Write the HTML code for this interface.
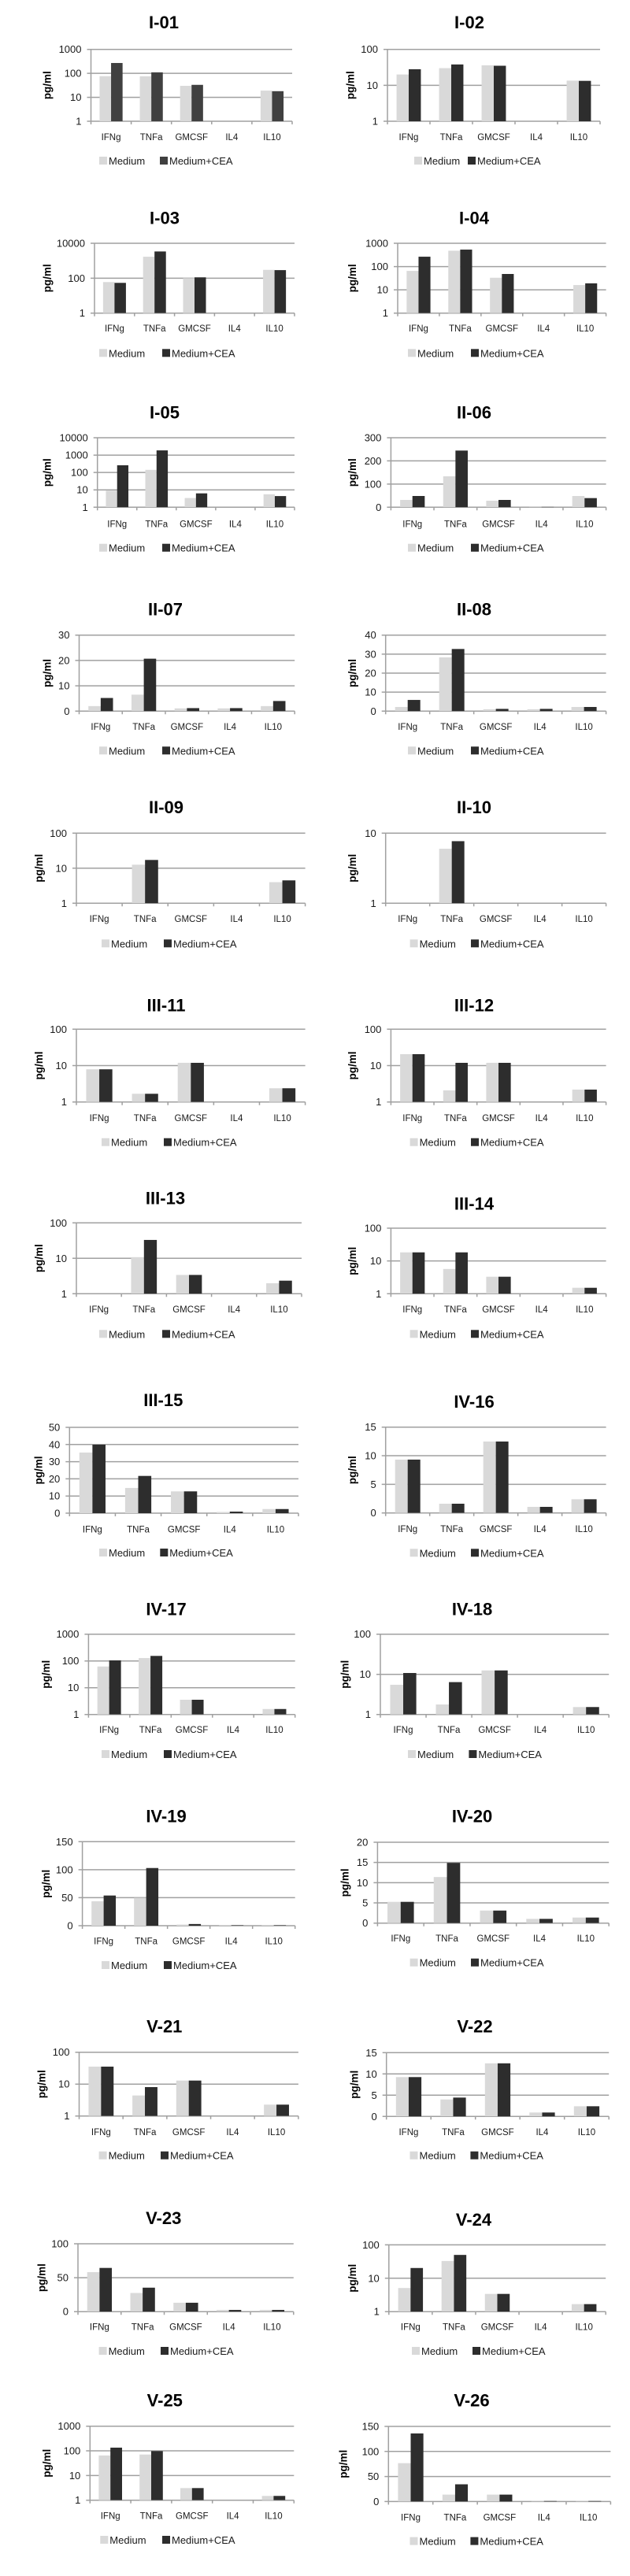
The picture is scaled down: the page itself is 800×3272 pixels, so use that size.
<!DOCTYPE html>
<html><head><meta charset="utf-8"><style>
html,body{margin:0;padding:0;background:#fff}
svg{display:block}
text{font-family:"Liberation Sans",Arial,sans-serif;fill:#1a1a1a}
.t{font-weight:bold;font-size:22px;text-anchor:middle;fill:#000}
.k{font-size:13px;text-anchor:end}
.c{font-size:11.5px;text-anchor:middle}
.y{font-weight:bold;font-size:13.5px;text-anchor:middle;fill:#000}
.l{font-size:13px}
.g{stroke:#a0a0a0;stroke-width:1.5;fill:none;vector-effect:non-scaling-stroke}
.m{fill:#d9d9d9}
.d{fill:#2d2d2d}
.d1{fill:#404040}
</style></head><body>
<svg width="800" height="3272" viewBox="0 0 800 3272" xmlns="http://www.w3.org/2000/svg">
<rect width="800" height="3272" fill="#fff"/>

<!-- 1 I-01 -->
<text class="t" x="208" y="36">I-01</text>
<path class="g" d="M110.5 62.7H371M110.5 93.1H371M110.5 123.6H371M110.5 154H371M115.5 62.7V154"/>
<svg x="115.5" y="154" width="255.5" height="4" viewBox="0 0 5 4" preserveAspectRatio="none" overflow="visible"><path class="g" d="M0 0V4M1 0V4M2 0V4M3 0V4M4 0V4M5 0V4"/></svg>
<svg x="115.5" y="62.7" width="255.5" height="91.3" viewBox="0 0 35 300" preserveAspectRatio="none"><g transform="matrix(1 0 0 -1 0 300)"><rect class="m" x="1.5" width="2" height="188.1"/><rect class="d1" x="3.5" width="2" height="243.1"/><rect class="m" x="8.5" width="2" height="187.5"/><rect class="d1" x="10.5" width="2" height="204.1"/><rect class="m" x="15.5" width="2" height="147.7"/><rect class="d1" x="17.5" width="2" height="151.9"/><rect class="m" x="29.5" width="2" height="127.9"/><rect class="d1" x="31.5" width="2" height="125.5"/></g></svg>
<text class="k" x="103.5" y="67.2">1000</text><text class="k" x="103.5" y="97.6">100</text><text class="k" x="103.5" y="128.1">10</text><text class="k" x="103.5" y="158.5">1</text>
<text class="y" transform="translate(64.5 108.3) rotate(-90)">pg/ml</text>
<text class="c" x="141.05" y="177.8">IFNg</text><text class="c" x="192.15" y="177.8">TNFa</text><text class="c" x="243.25" y="177.8">GMCSF</text><text class="c" x="294.35" y="177.8">IL4</text><text class="c" x="345.45" y="177.8">IL10</text>
<rect class="m" x="126" y="199" width="10" height="10"/><text class="l" x="138" y="209">Medium</text><rect class="d1" x="203" y="199" width="10" height="10"/><text class="l" x="215" y="209">Medium+CEA</text>

<!-- 2 I-02 -->
<text class="t" x="596" y="36">I-02</text>
<path class="g" d="M487 62.7H762M487 108.35H762M487 154H762M492 62.7V154"/>
<svg x="492" y="154" width="270" height="4" viewBox="0 0 5 4" preserveAspectRatio="none" overflow="visible"><path class="g" d="M0 0V4M1 0V4M2 0V4M3 0V4M4 0V4M5 0V4"/></svg>
<svg x="492" y="62.7" width="270" height="91.3" viewBox="0 0 35 200" preserveAspectRatio="none"><g transform="matrix(1 0 0 -1 0 200)"><rect class="m" x="1.5" width="2" height="130.1"/><rect class="d" x="3.5" width="2" height="144.7"/><rect class="m" x="8.5" width="2" height="147.7"/><rect class="d" x="10.5" width="2" height="158"/><rect class="m" x="15.5" width="2" height="155.6"/><rect class="d" x="17.5" width="2" height="154.4"/><rect class="m" x="29.5" width="2" height="113"/><rect class="d" x="31.5" width="2" height="112.4"/></g></svg>
<text class="k" x="480" y="67.2">100</text><text class="k" x="480" y="112.9">10</text><text class="k" x="480" y="158.5">1</text>
<text class="y" transform="translate(449.5 108.3) rotate(-90)">pg/ml</text>
<text class="c" x="519" y="177.8">IFNg</text><text class="c" x="573" y="177.8">TNFa</text><text class="c" x="627" y="177.8">GMCSF</text><text class="c" x="681" y="177.8">IL4</text><text class="c" x="735" y="177.8">IL10</text>
<rect class="m" x="526" y="199" width="10" height="10"/><text class="l" x="538" y="209">Medium</text><rect class="d" x="594" y="199" width="10" height="10"/><text class="l" x="606" y="209">Medium+CEA</text>

<!-- 3 I-03 -->
<text class="t" x="209" y="284.7">I-03</text>
<path class="g" d="M115 309H374M115 353.35H374M115 397.7H374M120 309V397.7"/>
<svg x="120" y="397.7" width="254" height="4" viewBox="0 0 5 4" preserveAspectRatio="none" overflow="visible"><path class="g" d="M0 0V4M1 0V4M2 0V4M3 0V4M4 0V4M5 0V4"/></svg>
<svg x="120" y="309" width="254" height="88.7" viewBox="0 0 35 400" preserveAspectRatio="none"><g transform="matrix(1 0 0 -1 0 400)"><rect class="m" x="1.5" width="2" height="177.8"/><rect class="d" x="3.5" width="2" height="173.2"/><rect class="m" x="8.5" width="2" height="323"/><rect class="d" x="10.5" width="2" height="353.1"/><rect class="m" x="15.5" width="2" height="200"/><rect class="d" x="17.5" width="2" height="204.9"/><rect class="m" x="29.5" width="2" height="247.7"/><rect class="d" x="31.5" width="2" height="246.2"/></g></svg>
<text class="k" x="108" y="313.5">10000</text><text class="k" x="108" y="357.9">100</text><text class="k" x="108" y="402.2">1</text>
<text class="y" transform="translate(64.5 353.4) rotate(-90)">pg/ml</text>
<text class="c" x="145.4" y="421.2">IFNg</text><text class="c" x="196.2" y="421.2">TNFa</text><text class="c" x="247" y="421.2">GMCSF</text><text class="c" x="297.8" y="421.2">IL4</text><text class="c" x="348.6" y="421.2">IL10</text>
<rect class="m" x="126" y="443.3" width="10" height="10"/><text class="l" x="138" y="453.3">Medium</text><rect class="d" x="206" y="443.3" width="10" height="10"/><text class="l" x="218" y="453.3">Medium+CEA</text>

<!-- 4 I-04 -->
<text class="t" x="602" y="284.7">I-04</text>
<path class="g" d="M500 309H769.6M500 338.57H769.6M500 368.13H769.6M500 397.7H769.6M505 309V397.7"/>
<svg x="505" y="397.7" width="264.6" height="4" viewBox="0 0 5 4" preserveAspectRatio="none" overflow="visible"><path class="g" d="M0 0V4M1 0V4M2 0V4M3 0V4M4 0V4M5 0V4"/></svg>
<svg x="505" y="309" width="264.6" height="88.7" viewBox="0 0 35 300" preserveAspectRatio="none"><g transform="matrix(1 0 0 -1 0 300)"><rect class="m" x="1.5" width="2" height="181.3"/><rect class="d" x="3.5" width="2" height="242.3"/><rect class="m" x="8.5" width="2" height="268.1"/><rect class="d" x="10.5" width="2" height="272.8"/><rect class="m" x="15.5" width="2" height="151.9"/><rect class="d" x="17.5" width="2" height="168.1"/><rect class="m" x="29.5" width="2" height="120.4"/><rect class="d" x="31.5" width="2" height="127.9"/></g></svg>
<text class="k" x="493" y="313.5">1000</text><text class="k" x="493" y="343.1">100</text><text class="k" x="493" y="372.6">10</text><text class="k" x="493" y="402.2">1</text>
<text class="y" transform="translate(452 353.4) rotate(-90)">pg/ml</text>
<text class="c" x="531.46" y="421.2">IFNg</text><text class="c" x="584.38" y="421.2">TNFa</text><text class="c" x="637.3" y="421.2">GMCSF</text><text class="c" x="690.22" y="421.2">IL4</text><text class="c" x="743.14" y="421.2">IL10</text>
<rect class="m" x="518" y="443.3" width="10" height="10"/><text class="l" x="530" y="453.3">Medium</text><rect class="d" x="598" y="443.3" width="10" height="10"/><text class="l" x="610" y="453.3">Medium+CEA</text>

<!-- 5 I-05 -->
<text class="t" x="209" y="531.3">I-05</text>
<path class="g" d="M118.7 556H374M118.7 578.1H374M118.7 600.15H374M118.7 622.2H374M118.7 644.3H374M123.7 556V644.3"/>
<svg x="123.7" y="644.3" width="250.3" height="4" viewBox="0 0 5 4" preserveAspectRatio="none" overflow="visible"><path class="g" d="M0 0V4M1 0V4M2 0V4M3 0V4M4 0V4M5 0V4"/></svg>
<svg x="123.7" y="556" width="250.3" height="88.3" viewBox="0 0 35 400" preserveAspectRatio="none"><g transform="matrix(1 0 0 -1 0 400)"><rect class="m" x="1.5" width="2" height="95.4"/><rect class="d" x="3.5" width="2" height="241.5"/><rect class="m" x="8.5" width="2" height="215.2"/><rect class="d" x="10.5" width="2" height="327.2"/><rect class="m" x="15.5" width="2" height="53.1"/><rect class="d" x="17.5" width="2" height="79.9"/><rect class="m" x="29.5" width="2" height="74.8"/><rect class="d" x="31.5" width="2" height="64.3"/></g></svg>
<text class="k" x="111.7" y="560.5">10000</text><text class="k" x="111.7" y="582.6">1000</text><text class="k" x="111.7" y="604.7">100</text><text class="k" x="111.7" y="626.7">10</text><text class="k" x="111.7" y="648.8">1</text>
<text class="y" transform="translate(64.5 600.2) rotate(-90)">pg/ml</text>
<text class="c" x="148.73" y="669.5">IFNg</text><text class="c" x="198.79" y="669.5">TNFa</text><text class="c" x="248.85" y="669.5">GMCSF</text><text class="c" x="298.91" y="669.5">IL4</text><text class="c" x="348.97" y="669.5">IL10</text>
<rect class="m" x="126" y="690.7" width="10" height="10"/><text class="l" x="138" y="700.7">Medium</text><rect class="d" x="206" y="690.7" width="10" height="10"/><text class="l" x="218" y="700.7">Medium+CEA</text>

<!-- 6 II-06 -->
<text class="t" x="602" y="531.3">II-06</text>
<path class="g" d="M491.4 556H769.6M491.4 585.43H769.6M491.4 614.87H769.6M491.4 644.3H769.6M496.4 556V644.3"/>
<svg x="496.4" y="644.3" width="273.2" height="4" viewBox="0 0 5 4" preserveAspectRatio="none" overflow="visible"><path class="g" d="M0 0V4M1 0V4M2 0V4M3 0V4M4 0V4M5 0V4"/></svg>
<svg x="496.4" y="556" width="273.2" height="88.3" viewBox="0 0 35 300" preserveAspectRatio="none"><g transform="matrix(1 0 0 -1 0 300)"><rect class="m" x="1.5" width="2" height="31.6"/><rect class="d" x="3.5" width="2" height="48.6"/><rect class="m" x="8.5" width="2" height="133.5"/><rect class="d" x="10.5" width="2" height="244.6"/><rect class="m" x="15.5" width="2" height="28"/><rect class="d" x="17.5" width="2" height="31.6"/><rect class="m" x="22.5" width="2" height="1.5"/><rect class="d" x="24.5" width="2" height="1.5"/><rect class="m" x="29.5" width="2" height="48.6"/><rect class="d" x="31.5" width="2" height="39.5"/></g></svg>
<text class="k" x="484.4" y="560.5">300</text><text class="k" x="484.4" y="589.9">200</text><text class="k" x="484.4" y="619.4">100</text><text class="k" x="484.4" y="648.8">0</text>
<text class="y" transform="translate(452 600.2) rotate(-90)">pg/ml</text>
<text class="c" x="523.72" y="669.5">IFNg</text><text class="c" x="578.36" y="669.5">TNFa</text><text class="c" x="633" y="669.5">GMCSF</text><text class="c" x="687.64" y="669.5">IL4</text><text class="c" x="742.28" y="669.5">IL10</text>
<rect class="m" x="518" y="690.7" width="10" height="10"/><text class="l" x="530" y="700.7">Medium</text><rect class="d" x="598" y="690.7" width="10" height="10"/><text class="l" x="610" y="700.7">Medium+CEA</text>

<!-- 7 II-07 -->
<text class="t" x="210" y="781.3">II-07</text>
<path class="g" d="M95.5 806.7H374.2M95.5 838.9H374.2M95.5 871.1H374.2M95.5 903.3H374.2M100.5 806.7V903.3"/>
<svg x="100.5" y="903.3" width="273.7" height="4" viewBox="0 0 5 4" preserveAspectRatio="none" overflow="visible"><path class="g" d="M0 0V4M1 0V4M2 0V4M3 0V4M4 0V4M5 0V4"/></svg>
<svg x="100.5" y="806.7" width="273.7" height="96.6" viewBox="0 0 35 30" preserveAspectRatio="none"><g transform="matrix(1 0 0 -1 0 30)"><rect class="m" x="1.5" width="2" height="2"/><rect class="d" x="3.5" width="2" height="5.2"/><rect class="m" x="8.5" width="2" height="6.5"/><rect class="d" x="10.5" width="2" height="20.7"/><rect class="m" x="15.5" width="2" height="1.1"/><rect class="d" x="17.5" width="2" height="1.2"/><rect class="m" x="22.5" width="2" height="1.1"/><rect class="d" x="24.5" width="2" height="1.2"/><rect class="m" x="29.5" width="2" height="2"/><rect class="d" x="31.5" width="2" height="4"/></g></svg>
<text class="k" x="88.5" y="811.2">30</text><text class="k" x="88.5" y="843.4">20</text><text class="k" x="88.5" y="875.6">10</text><text class="k" x="88.5" y="907.8">0</text>
<text class="y" transform="translate(64.5 855) rotate(-90)">pg/ml</text>
<text class="c" x="127.87" y="927.2">IFNg</text><text class="c" x="182.61" y="927.2">TNFa</text><text class="c" x="237.35" y="927.2">GMCSF</text><text class="c" x="292.09" y="927.2">IL4</text><text class="c" x="346.83" y="927.2">IL10</text>
<rect class="m" x="126" y="948.3" width="10" height="10"/><text class="l" x="138" y="958.3">Medium</text><rect class="d" x="206" y="948.3" width="10" height="10"/><text class="l" x="218" y="958.3">Medium+CEA</text>

<!-- 8 II-08 -->
<text class="t" x="602" y="781.3">II-08</text>
<path class="g" d="M484.7 806.7H769.6M484.7 830.85H769.6M484.7 855H769.6M484.7 879.15H769.6M484.7 903.3H769.6M489.7 806.7V903.3"/>
<svg x="489.7" y="903.3" width="279.9" height="4" viewBox="0 0 5 4" preserveAspectRatio="none" overflow="visible"><path class="g" d="M0 0V4M1 0V4M2 0V4M3 0V4M4 0V4M5 0V4"/></svg>
<svg x="489.7" y="806.7" width="279.9" height="96.6" viewBox="0 0 35 40" preserveAspectRatio="none"><g transform="matrix(1 0 0 -1 0 40)"><rect class="m" x="1.5" width="2" height="2.2"/><rect class="d" x="3.5" width="2" height="5.9"/><rect class="m" x="8.5" width="2" height="28.3"/><rect class="d" x="10.5" width="2" height="32.7"/><rect class="m" x="15.5" width="2" height="1"/><rect class="d" x="17.5" width="2" height="1.2"/><rect class="m" x="22.5" width="2" height="1"/><rect class="d" x="24.5" width="2" height="1.2"/><rect class="m" x="29.5" width="2" height="2.2"/><rect class="d" x="31.5" width="2" height="2.2"/></g></svg>
<text class="k" x="477.7" y="811.2">40</text><text class="k" x="477.7" y="835.4">30</text><text class="k" x="477.7" y="859.5">20</text><text class="k" x="477.7" y="883.7">10</text><text class="k" x="477.7" y="907.8">0</text>
<text class="y" transform="translate(452 855) rotate(-90)">pg/ml</text>
<text class="c" x="517.69" y="927.2">IFNg</text><text class="c" x="573.67" y="927.2">TNFa</text><text class="c" x="629.65" y="927.2">GMCSF</text><text class="c" x="685.63" y="927.2">IL4</text><text class="c" x="741.61" y="927.2">IL10</text>
<rect class="m" x="518" y="948.3" width="10" height="10"/><text class="l" x="530" y="958.3">Medium</text><rect class="d" x="598" y="948.3" width="10" height="10"/><text class="l" x="610" y="958.3">Medium+CEA</text>

<!-- 9 II-09 -->
<text class="t" x="211" y="1033">II-09</text>
<path class="g" d="M92 1058.3H387.6M92 1102.8H387.6M92 1147.3H387.6M97 1058.3V1147.3"/>
<svg x="97" y="1147.3" width="290.6" height="4" viewBox="0 0 5 4" preserveAspectRatio="none" overflow="visible"><path class="g" d="M0 0V4M1 0V4M2 0V4M3 0V4M4 0V4M5 0V4"/></svg>
<svg x="97" y="1058.3" width="290.6" height="89" viewBox="0 0 35 200" preserveAspectRatio="none"><g transform="matrix(1 0 0 -1 0 200)"><rect class="m" x="8.5" width="2" height="110"/><rect class="d" x="10.5" width="2" height="123.6"/><rect class="m" x="29.5" width="2" height="60.2"/><rect class="d" x="31.5" width="2" height="65.3"/></g></svg>
<text class="k" x="85" y="1062.8">100</text><text class="k" x="85" y="1107.3">10</text><text class="k" x="85" y="1151.8">1</text>
<text class="y" transform="translate(54 1102.8) rotate(-90)">pg/ml</text>
<text class="c" x="126.06" y="1171.2">IFNg</text><text class="c" x="184.18" y="1171.2">TNFa</text><text class="c" x="242.3" y="1171.2">GMCSF</text><text class="c" x="300.42" y="1171.2">IL4</text><text class="c" x="358.54" y="1171.2">IL10</text>
<rect class="m" x="129" y="1193.3" width="10" height="10"/><text class="l" x="141" y="1203.3">Medium</text><rect class="d" x="208" y="1193.3" width="10" height="10"/><text class="l" x="220" y="1203.3">Medium+CEA</text>

<!-- 10 II-10 -->
<text class="t" x="602" y="1033">II-10</text>
<path class="g" d="M484.7 1058.3H769.6M484.7 1147.3H769.6M489.7 1058.3V1147.3"/>
<svg x="489.7" y="1147.3" width="279.9" height="4" viewBox="0 0 5 4" preserveAspectRatio="none" overflow="visible"><path class="g" d="M0 0V4M1 0V4M2 0V4M3 0V4M4 0V4M5 0V4"/></svg>
<svg x="489.7" y="1058.3" width="279.9" height="89" viewBox="0 0 35 100" preserveAspectRatio="none"><g transform="matrix(1 0 0 -1 0 100)"><rect class="m" x="8.5" width="2" height="77.8"/><rect class="d" x="10.5" width="2" height="88.6"/></g></svg>
<text class="k" x="477.7" y="1062.8">10</text><text class="k" x="477.7" y="1151.8">1</text>
<text class="y" transform="translate(452 1102.8) rotate(-90)">pg/ml</text>
<text class="c" x="517.69" y="1171.2">IFNg</text><text class="c" x="573.67" y="1171.2">TNFa</text><text class="c" x="629.65" y="1171.2">GMCSF</text><text class="c" x="685.63" y="1171.2">IL4</text><text class="c" x="741.61" y="1171.2">IL10</text>
<rect class="m" x="520.6" y="1193.3" width="10" height="10"/><text class="l" x="532.6" y="1203.3">Medium</text><rect class="d" x="598" y="1193.3" width="10" height="10"/><text class="l" x="610" y="1203.3">Medium+CEA</text>

<!-- 11 III-11 -->
<text class="t" x="211" y="1284.7">III-11</text>
<path class="g" d="M92 1307.3H387.6M92 1353.5H387.6M92 1399.7H387.6M97 1307.3V1399.7"/>
<svg x="97" y="1399.7" width="290.6" height="4" viewBox="0 0 5 4" preserveAspectRatio="none" overflow="visible"><path class="g" d="M0 0V4M1 0V4M2 0V4M3 0V4M4 0V4M5 0V4"/></svg>
<svg x="97" y="1307.3" width="290.6" height="92.4" viewBox="0 0 35 200" preserveAspectRatio="none"><g transform="matrix(1 0 0 -1 0 200)"><rect class="m" x="1.5" width="2" height="89.8"/><rect class="d" x="3.5" width="2" height="89.8"/><rect class="m" x="8.5" width="2" height="22.5"/><rect class="d" x="10.5" width="2" height="22.5"/><rect class="m" x="15.5" width="2" height="107.6"/><rect class="d" x="17.5" width="2" height="107.6"/><rect class="m" x="29.5" width="2" height="37.7"/><rect class="d" x="31.5" width="2" height="37.7"/></g></svg>
<text class="k" x="85" y="1311.8">100</text><text class="k" x="85" y="1358">10</text><text class="k" x="85" y="1404.2">1</text>
<text class="y" transform="translate(54 1353.5) rotate(-90)">pg/ml</text>
<text class="c" x="126.06" y="1423.8">IFNg</text><text class="c" x="184.18" y="1423.8">TNFa</text><text class="c" x="242.3" y="1423.8">GMCSF</text><text class="c" x="300.42" y="1423.8">IL4</text><text class="c" x="358.54" y="1423.8">IL10</text>
<rect class="m" x="129" y="1445.7" width="10" height="10"/><text class="l" x="141" y="1455.7">Medium</text><rect class="d" x="208" y="1445.7" width="10" height="10"/><text class="l" x="220" y="1455.7">Medium+CEA</text>

<!-- 12 III-12 -->
<text class="t" x="602" y="1284.7">III-12</text>
<path class="g" d="M491.4 1307.3H769.6M491.4 1353.5H769.6M491.4 1399.7H769.6M496.4 1307.3V1399.7"/>
<svg x="496.4" y="1399.7" width="273.2" height="4" viewBox="0 0 5 4" preserveAspectRatio="none" overflow="visible"><path class="g" d="M0 0V4M1 0V4M2 0V4M3 0V4M4 0V4M5 0V4"/></svg>
<svg x="496.4" y="1307.3" width="273.2" height="92.4" viewBox="0 0 35 200" preserveAspectRatio="none"><g transform="matrix(1 0 0 -1 0 200)"><rect class="m" x="1.5" width="2" height="131.4"/><rect class="d" x="3.5" width="2" height="131.4"/><rect class="m" x="8.5" width="2" height="31.8"/><rect class="d" x="10.5" width="2" height="107.6"/><rect class="m" x="15.5" width="2" height="107.6"/><rect class="d" x="17.5" width="2" height="107.6"/><rect class="m" x="29.5" width="2" height="34"/><rect class="d" x="31.5" width="2" height="34"/></g></svg>
<text class="k" x="484.4" y="1311.8">100</text><text class="k" x="484.4" y="1358">10</text><text class="k" x="484.4" y="1404.2">1</text>
<text class="y" transform="translate(452 1353.5) rotate(-90)">pg/ml</text>
<text class="c" x="523.72" y="1423.8">IFNg</text><text class="c" x="578.36" y="1423.8">TNFa</text><text class="c" x="633" y="1423.8">GMCSF</text><text class="c" x="687.64" y="1423.8">IL4</text><text class="c" x="742.28" y="1423.8">IL10</text>
<rect class="m" x="520.6" y="1445.7" width="10" height="10"/><text class="l" x="532.6" y="1455.7">Medium</text><rect class="d" x="598" y="1445.7" width="10" height="10"/><text class="l" x="610" y="1455.7">Medium+CEA</text>

<!-- 13 III-13 -->
<text class="t" x="210" y="1529.7">III-13</text>
<path class="g" d="M92 1553.3H383M92 1598.3H383M92 1643.3H383M97 1553.3V1643.3"/>
<svg x="97" y="1643.3" width="286" height="4" viewBox="0 0 5 4" preserveAspectRatio="none" overflow="visible"><path class="g" d="M0 0V4M1 0V4M2 0V4M3 0V4M4 0V4M5 0V4"/></svg>
<svg x="97" y="1553.3" width="286" height="90" viewBox="0 0 35 200" preserveAspectRatio="none"><g transform="matrix(1 0 0 -1 0 200)"><rect class="m" x="8.5" width="2" height="103.3"/><rect class="d" x="10.5" width="2" height="151.9"/><rect class="m" x="15.5" width="2" height="53.1"/><rect class="d" x="17.5" width="2" height="53.1"/><rect class="m" x="29.5" width="2" height="29.7"/><rect class="d" x="31.5" width="2" height="36.9"/></g></svg>
<text class="k" x="85" y="1557.8">100</text><text class="k" x="85" y="1602.8">10</text><text class="k" x="85" y="1647.8">1</text>
<text class="y" transform="translate(54 1598.3) rotate(-90)">pg/ml</text>
<text class="c" x="125.6" y="1667.2">IFNg</text><text class="c" x="182.8" y="1667.2">TNFa</text><text class="c" x="240" y="1667.2">GMCSF</text><text class="c" x="297.2" y="1667.2">IL4</text><text class="c" x="354.4" y="1667.2">IL10</text>
<rect class="m" x="126" y="1689.3" width="10" height="10"/><text class="l" x="138" y="1699.3">Medium</text><rect class="d" x="206" y="1689.3" width="10" height="10"/><text class="l" x="218" y="1699.3">Medium+CEA</text>

<!-- 14 III-14 -->
<text class="t" x="602" y="1536.3">III-14</text>
<path class="g" d="M491.4 1560H769.6M491.4 1601.65H769.6M491.4 1643.3H769.6M496.4 1560V1643.3"/>
<svg x="496.4" y="1643.3" width="273.2" height="4" viewBox="0 0 5 4" preserveAspectRatio="none" overflow="visible"><path class="g" d="M0 0V4M1 0V4M2 0V4M3 0V4M4 0V4M5 0V4"/></svg>
<svg x="496.4" y="1560" width="273.2" height="83.3" viewBox="0 0 35 200" preserveAspectRatio="none"><g transform="matrix(1 0 0 -1 0 200)"><rect class="m" x="1.5" width="2" height="126.2"/><rect class="d" x="3.5" width="2" height="126.2"/><rect class="m" x="8.5" width="2" height="75.6"/><rect class="d" x="10.5" width="2" height="126.2"/><rect class="m" x="15.5" width="2" height="51.9"/><rect class="d" x="17.5" width="2" height="51.9"/><rect class="m" x="29.5" width="2" height="18.2"/><rect class="d" x="31.5" width="2" height="18.2"/></g></svg>
<text class="k" x="484.4" y="1564.5">100</text><text class="k" x="484.4" y="1606.2">10</text><text class="k" x="484.4" y="1647.8">1</text>
<text class="y" transform="translate(452 1601.7) rotate(-90)">pg/ml</text>
<text class="c" x="523.72" y="1667.2">IFNg</text><text class="c" x="578.36" y="1667.2">TNFa</text><text class="c" x="633" y="1667.2">GMCSF</text><text class="c" x="687.64" y="1667.2">IL4</text><text class="c" x="742.28" y="1667.2">IL10</text>
<rect class="m" x="520.6" y="1689.3" width="10" height="10"/><text class="l" x="532.6" y="1699.3">Medium</text><rect class="d" x="598" y="1689.3" width="10" height="10"/><text class="l" x="610" y="1699.3">Medium+CEA</text>

<!-- 15 III-15 -->
<text class="t" x="207.3" y="1786">III-15</text>
<path class="g" d="M83.3 1813H379M83.3 1834.8H379M83.3 1856.6H379M83.3 1878.4H379M83.3 1900.2H379M83.3 1922H379M88.3 1813V1922"/>
<svg x="88.3" y="1922" width="290.7" height="4" viewBox="0 0 5 4" preserveAspectRatio="none" overflow="visible"><path class="g" d="M0 0V4M1 0V4M2 0V4M3 0V4M4 0V4M5 0V4"/></svg>
<svg x="88.3" y="1813" width="290.7" height="109" viewBox="0 0 35 50" preserveAspectRatio="none"><g transform="matrix(1 0 0 -1 0 50)"><rect class="m" x="1.5" width="2" height="35.3"/><rect class="d" x="3.5" width="2" height="39.9"/><rect class="m" x="8.5" width="2" height="14.7"/><rect class="d" x="10.5" width="2" height="21.7"/><rect class="m" x="15.5" width="2" height="12.7"/><rect class="d" x="17.5" width="2" height="12.7"/><rect class="m" x="22.5" width="2" height="0.7"/><rect class="d" x="24.5" width="2" height="0.9"/><rect class="m" x="29.5" width="2" height="2.4"/><rect class="d" x="31.5" width="2" height="2.4"/></g></svg>
<text class="k" x="76.3" y="1817.5">50</text><text class="k" x="76.3" y="1839.3">40</text><text class="k" x="76.3" y="1861.1">30</text><text class="k" x="76.3" y="1882.9">20</text><text class="k" x="76.3" y="1904.7">10</text><text class="k" x="76.3" y="1926.5">0</text>
<text class="y" transform="translate(53.5 1867.5) rotate(-90)">pg/ml</text>
<text class="c" x="117.37" y="1946.5">IFNg</text><text class="c" x="175.51" y="1946.5">TNFa</text><text class="c" x="233.65" y="1946.5">GMCSF</text><text class="c" x="291.79" y="1946.5">IL4</text><text class="c" x="349.93" y="1946.5">IL10</text>
<rect class="m" x="126" y="1967" width="10" height="10"/><text class="l" x="138" y="1977">Medium</text><rect class="d" x="203.3" y="1967" width="10" height="10"/><text class="l" x="215.3" y="1977">Medium+CEA</text>

<!-- 16 IV-16 -->
<text class="t" x="602" y="1788">IV-16</text>
<path class="g" d="M484.7 1812.7H769.6M484.7 1849.03H769.6M484.7 1885.37H769.6M484.7 1921.7H769.6M489.7 1812.7V1921.7"/>
<svg x="489.7" y="1921.7" width="279.9" height="4" viewBox="0 0 5 4" preserveAspectRatio="none" overflow="visible"><path class="g" d="M0 0V4M1 0V4M2 0V4M3 0V4M4 0V4M5 0V4"/></svg>
<svg x="489.7" y="1812.7" width="279.9" height="109" viewBox="0 0 35 15" preserveAspectRatio="none"><g transform="matrix(1 0 0 -1 0 15)"><rect class="m" x="1.5" width="2" height="9.32"/><rect class="d" x="3.5" width="2" height="9.32"/><rect class="m" x="8.5" width="2" height="1.61"/><rect class="d" x="10.5" width="2" height="1.61"/><rect class="m" x="15.5" width="2" height="12.48"/><rect class="d" x="17.5" width="2" height="12.48"/><rect class="m" x="22.5" width="2" height="1.06"/><rect class="d" x="24.5" width="2" height="1.06"/><rect class="m" x="29.5" width="2" height="2.39"/><rect class="d" x="31.5" width="2" height="2.39"/></g></svg>
<text class="k" x="477.7" y="1817.2">15</text><text class="k" x="477.7" y="1853.5">10</text><text class="k" x="477.7" y="1889.9">5</text><text class="k" x="477.7" y="1926.2">0</text>
<text class="y" transform="translate(452 1867.2) rotate(-90)">pg/ml</text>
<text class="c" x="517.69" y="1946.2">IFNg</text><text class="c" x="573.67" y="1946.2">TNFa</text><text class="c" x="629.65" y="1946.2">GMCSF</text><text class="c" x="685.63" y="1946.2">IL4</text><text class="c" x="741.61" y="1946.2">IL10</text>
<rect class="m" x="520.6" y="1967.3" width="10" height="10"/><text class="l" x="532.6" y="1977.3">Medium</text><rect class="d" x="598" y="1967.3" width="10" height="10"/><text class="l" x="610" y="1977.3">Medium+CEA</text>

<!-- 17 IV-17 -->
<text class="t" x="211" y="2051.3">IV-17</text>
<path class="g" d="M107.4 2075.7H374.7M107.4 2109.7H374.7M107.4 2143.7H374.7M107.4 2177.7H374.7M112.4 2075.7V2177.7"/>
<svg x="112.4" y="2177.7" width="262.3" height="4" viewBox="0 0 5 4" preserveAspectRatio="none" overflow="visible"><path class="g" d="M0 0V4M1 0V4M2 0V4M3 0V4M4 0V4M5 0V4"/></svg>
<svg x="112.4" y="2075.7" width="262.3" height="102" viewBox="0 0 35 300" preserveAspectRatio="none"><g transform="matrix(1 0 0 -1 0 300)"><rect class="m" x="1.5" width="2" height="179.2"/><rect class="d" x="3.5" width="2" height="202.1"/><rect class="m" x="8.5" width="2" height="210.7"/><rect class="d" x="10.5" width="2" height="218.8"/><rect class="m" x="15.5" width="2" height="55"/><rect class="d" x="17.5" width="2" height="55"/><rect class="m" x="29.5" width="2" height="20.4"/><rect class="d" x="31.5" width="2" height="20.4"/></g></svg>
<text class="k" x="100.4" y="2080.2">1000</text><text class="k" x="100.4" y="2114.2">100</text><text class="k" x="100.4" y="2148.2">10</text><text class="k" x="100.4" y="2182.2">1</text>
<text class="y" transform="translate(62.8 2126.7) rotate(-90)">pg/ml</text>
<text class="c" x="138.63" y="2201.2">IFNg</text><text class="c" x="191.09" y="2201.2">TNFa</text><text class="c" x="243.55" y="2201.2">GMCSF</text><text class="c" x="296.01" y="2201.2">IL4</text><text class="c" x="348.47" y="2201.2">IL10</text>
<rect class="m" x="129" y="2223" width="10" height="10"/><text class="l" x="141" y="2233">Medium</text><rect class="d" x="208" y="2223" width="10" height="10"/><text class="l" x="220" y="2233">Medium+CEA</text>

<!-- 18 IV-18 -->
<text class="t" x="599.5" y="2051.3">IV-18</text>
<path class="g" d="M478 2075.7H773.2M478 2126.7H773.2M478 2177.7H773.2M483 2075.7V2177.7"/>
<svg x="483" y="2177.7" width="290.2" height="4" viewBox="0 0 5 4" preserveAspectRatio="none" overflow="visible"><path class="g" d="M0 0V4M1 0V4M2 0V4M3 0V4M4 0V4M5 0V4"/></svg>
<svg x="483" y="2075.7" width="290.2" height="102" viewBox="0 0 35 200" preserveAspectRatio="none"><g transform="matrix(1 0 0 -1 0 200)"><rect class="m" x="1.5" width="2" height="74"/><rect class="d" x="3.5" width="2" height="103.3"/><rect class="m" x="8.5" width="2" height="24.8"/><rect class="d" x="10.5" width="2" height="80.6"/><rect class="m" x="15.5" width="2" height="109.7"/><rect class="d" x="17.5" width="2" height="109.7"/><rect class="m" x="29.5" width="2" height="18.5"/><rect class="d" x="31.5" width="2" height="18.5"/></g></svg>
<text class="k" x="471" y="2080.2">100</text><text class="k" x="471" y="2131.2">10</text><text class="k" x="471" y="2182.2">1</text>
<text class="y" transform="translate(442.5 2126.7) rotate(-90)">pg/ml</text>
<text class="c" x="512.02" y="2201.2">IFNg</text><text class="c" x="570.06" y="2201.2">TNFa</text><text class="c" x="628.1" y="2201.2">GMCSF</text><text class="c" x="686.14" y="2201.2">IL4</text><text class="c" x="744.18" y="2201.2">IL10</text>
<rect class="m" x="518" y="2223" width="10" height="10"/><text class="l" x="530" y="2233">Medium</text><rect class="d" x="595.4" y="2223" width="10" height="10"/><text class="l" x="607.4" y="2233">Medium+CEA</text>

<!-- 19 IV-19 -->
<text class="t" x="211" y="2314.7">IV-19</text>
<path class="g" d="M99.6 2339.3H374.7M99.6 2374.87H374.7M99.6 2410.43H374.7M99.6 2446H374.7M104.6 2339.3V2446"/>
<svg x="104.6" y="2446" width="270.1" height="4" viewBox="0 0 5 4" preserveAspectRatio="none" overflow="visible"><path class="g" d="M0 0V4M1 0V4M2 0V4M3 0V4M4 0V4M5 0V4"/></svg>
<svg x="104.6" y="2339.3" width="270.1" height="106.7" viewBox="0 0 35 150" preserveAspectRatio="none"><g transform="matrix(1 0 0 -1 0 150)"><rect class="m" x="1.5" width="2" height="43.6"/><rect class="d" x="3.5" width="2" height="53.9"/><rect class="m" x="8.5" width="2" height="49.7"/><rect class="d" x="10.5" width="2" height="103"/><rect class="m" x="15.5" width="2" height="2"/><rect class="d" x="17.5" width="2" height="3"/><rect class="m" x="22.5" width="2" height="0.8"/><rect class="d" x="24.5" width="2" height="0.8"/><rect class="m" x="29.5" width="2" height="0.8"/><rect class="d" x="31.5" width="2" height="0.8"/></g></svg>
<text class="k" x="92.6" y="2343.8">150</text><text class="k" x="92.6" y="2379.4">100</text><text class="k" x="92.6" y="2414.9">50</text><text class="k" x="92.6" y="2450.5">0</text>
<text class="y" transform="translate(62.8 2392.7) rotate(-90)">pg/ml</text>
<text class="c" x="131.61" y="2469.5">IFNg</text><text class="c" x="185.63" y="2469.5">TNFa</text><text class="c" x="239.65" y="2469.5">GMCSF</text><text class="c" x="293.67" y="2469.5">IL4</text><text class="c" x="347.69" y="2469.5">IL10</text>
<rect class="m" x="129" y="2491" width="10" height="10"/><text class="l" x="141" y="2501">Medium</text><rect class="d" x="208" y="2491" width="10" height="10"/><text class="l" x="220" y="2501">Medium+CEA</text>

<!-- 20 IV-20 -->
<text class="t" x="599.5" y="2314.7">IV-20</text>
<path class="g" d="M474.4 2340H773.2M474.4 2365.68H773.2M474.4 2391.35H773.2M474.4 2417.03H773.2M474.4 2442.7H773.2M479.4 2340V2442.7"/>
<svg x="479.4" y="2442.7" width="293.8" height="4" viewBox="0 0 5 4" preserveAspectRatio="none" overflow="visible"><path class="g" d="M0 0V4M1 0V4M2 0V4M3 0V4M4 0V4M5 0V4"/></svg>
<svg x="479.4" y="2340" width="293.8" height="102.7" viewBox="0 0 35 20" preserveAspectRatio="none"><g transform="matrix(1 0 0 -1 0 20)"><rect class="m" x="1.5" width="2" height="5.26"/><rect class="d" x="3.5" width="2" height="5.26"/><rect class="m" x="8.5" width="2" height="11.4"/><rect class="d" x="10.5" width="2" height="14.9"/><rect class="m" x="15.5" width="2" height="3.1"/><rect class="d" x="17.5" width="2" height="3.1"/><rect class="m" x="22.5" width="2" height="1.05"/><rect class="d" x="24.5" width="2" height="1.05"/><rect class="m" x="29.5" width="2" height="1.37"/><rect class="d" x="31.5" width="2" height="1.37"/></g></svg>
<text class="k" x="467.4" y="2344.5">20</text><text class="k" x="467.4" y="2370.2">15</text><text class="k" x="467.4" y="2395.9">10</text><text class="k" x="467.4" y="2421.5">5</text><text class="k" x="467.4" y="2447.2">0</text>
<text class="y" transform="translate(442.5 2391.4) rotate(-90)">pg/ml</text>
<text class="c" x="508.78" y="2466.2">IFNg</text><text class="c" x="567.54" y="2466.2">TNFa</text><text class="c" x="626.3" y="2466.2">GMCSF</text><text class="c" x="685.06" y="2466.2">IL4</text><text class="c" x="743.82" y="2466.2">IL10</text>
<rect class="m" x="520.6" y="2487.7" width="10" height="10"/><text class="l" x="532.6" y="2497.7">Medium</text><rect class="d" x="598" y="2487.7" width="10" height="10"/><text class="l" x="610" y="2497.7">Medium+CEA</text>

<!-- 21 V-21 -->
<text class="t" x="208.8" y="2581.3">V-21</text>
<path class="g" d="M95.5 2606.7H378.9M95.5 2647.2H378.9M95.5 2687.7H378.9M100.5 2606.7V2687.7"/>
<svg x="100.5" y="2687.7" width="278.4" height="4" viewBox="0 0 5 4" preserveAspectRatio="none" overflow="visible"><path class="g" d="M0 0V4M1 0V4M2 0V4M3 0V4M4 0V4M5 0V4"/></svg>
<svg x="100.5" y="2606.7" width="278.4" height="81" viewBox="0 0 35 200" preserveAspectRatio="none"><g transform="matrix(1 0 0 -1 0 200)"><rect class="m" x="1.5" width="2" height="154.8"/><rect class="d" x="3.5" width="2" height="154.8"/><rect class="m" x="8.5" width="2" height="64.3"/><rect class="d" x="10.5" width="2" height="90.6"/><rect class="m" x="15.5" width="2" height="111.1"/><rect class="d" x="17.5" width="2" height="111.1"/><rect class="m" x="29.5" width="2" height="35.6"/><rect class="d" x="31.5" width="2" height="35.6"/></g></svg>
<text class="k" x="88.5" y="2611.2">100</text><text class="k" x="88.5" y="2651.7">10</text><text class="k" x="88.5" y="2692.2">1</text>
<text class="y" transform="translate(57.5 2647.2) rotate(-90)">pg/ml</text>
<text class="c" x="128.34" y="2711.8">IFNg</text><text class="c" x="184.02" y="2711.8">TNFa</text><text class="c" x="239.7" y="2711.8">GMCSF</text><text class="c" x="295.38" y="2711.8">IL4</text><text class="c" x="351.06" y="2711.8">IL10</text>
<rect class="m" x="125.6" y="2732.7" width="10" height="10"/><text class="l" x="137.6" y="2742.7">Medium</text><rect class="d" x="204" y="2732.7" width="10" height="10"/><text class="l" x="216" y="2742.7">Medium+CEA</text>

<!-- 22 V-22 -->
<text class="t" x="603" y="2581.3">V-22</text>
<path class="g" d="M485.7 2607.3H773.2M485.7 2634.3H773.2M485.7 2661.3H773.2M485.7 2688.3H773.2M490.7 2607.3V2688.3"/>
<svg x="490.7" y="2688.3" width="282.5" height="4" viewBox="0 0 5 4" preserveAspectRatio="none" overflow="visible"><path class="g" d="M0 0V4M1 0V4M2 0V4M3 0V4M4 0V4M5 0V4"/></svg>
<svg x="490.7" y="2607.3" width="282.5" height="81" viewBox="0 0 35 15" preserveAspectRatio="none"><g transform="matrix(1 0 0 -1 0 15)"><rect class="m" x="1.5" width="2" height="9.26"/><rect class="d" x="3.5" width="2" height="9.26"/><rect class="m" x="8.5" width="2" height="4"/><rect class="d" x="10.5" width="2" height="4.44"/><rect class="m" x="15.5" width="2" height="12.5"/><rect class="d" x="17.5" width="2" height="12.5"/><rect class="m" x="22.5" width="2" height="0.93"/><rect class="d" x="24.5" width="2" height="0.93"/><rect class="m" x="29.5" width="2" height="2.4"/><rect class="d" x="31.5" width="2" height="2.4"/></g></svg>
<text class="k" x="478.7" y="2611.8">15</text><text class="k" x="478.7" y="2638.8">10</text><text class="k" x="478.7" y="2665.8">5</text><text class="k" x="478.7" y="2692.8">0</text>
<text class="y" transform="translate(454.5 2647.8) rotate(-90)">pg/ml</text>
<text class="c" x="518.95" y="2711.8">IFNg</text><text class="c" x="575.45" y="2711.8">TNFa</text><text class="c" x="631.95" y="2711.8">GMCSF</text><text class="c" x="688.45" y="2711.8">IL4</text><text class="c" x="744.95" y="2711.8">IL10</text>
<rect class="m" x="520.5" y="2732.7" width="10" height="10"/><text class="l" x="532.5" y="2742.7">Medium</text><rect class="d" x="597.4" y="2732.7" width="10" height="10"/><text class="l" x="609.4" y="2742.7">Medium+CEA</text>

<!-- 23 V-23 -->
<text class="t" x="207.7" y="2825">V-23</text>
<path class="g" d="M94 2850H372.8M94 2893.1H372.8M94 2936.2H372.8M99 2850V2936.2"/>
<svg x="99" y="2936.2" width="273.8" height="4" viewBox="0 0 5 4" preserveAspectRatio="none" overflow="visible"><path class="g" d="M0 0V4M1 0V4M2 0V4M3 0V4M4 0V4M5 0V4"/></svg>
<svg x="99" y="2850" width="273.8" height="86.2" viewBox="0 0 35 100" preserveAspectRatio="none"><g transform="matrix(1 0 0 -1 0 100)"><rect class="m" x="1.5" width="2" height="58.2"/><rect class="d" x="3.5" width="2" height="64.4"/><rect class="m" x="8.5" width="2" height="27.5"/><rect class="d" x="10.5" width="2" height="35.3"/><rect class="m" x="15.5" width="2" height="13.1"/><rect class="d" x="17.5" width="2" height="13.1"/><rect class="m" x="22.5" width="2" height="2.5"/><rect class="d" x="24.5" width="2" height="2.5"/><rect class="m" x="29.5" width="2" height="2.5"/><rect class="d" x="31.5" width="2" height="2.5"/></g></svg>
<text class="k" x="87" y="2854.5">100</text><text class="k" x="87" y="2897.6">50</text><text class="k" x="87" y="2940.7">0</text>
<text class="y" transform="translate(57.3 2893.1) rotate(-90)">pg/ml</text>
<text class="c" x="126.38" y="2959.4">IFNg</text><text class="c" x="181.14" y="2959.4">TNFa</text><text class="c" x="235.9" y="2959.4">GMCSF</text><text class="c" x="290.66" y="2959.4">IL4</text><text class="c" x="345.42" y="2959.4">IL10</text>
<rect class="m" x="125.6" y="2981" width="10" height="10"/><text class="l" x="137.6" y="2991">Medium</text><rect class="d" x="204" y="2981" width="10" height="10"/><text class="l" x="216" y="2991">Medium+CEA</text>

<!-- 24 V-24 -->
<text class="t" x="601.5" y="2827">V-24</text>
<path class="g" d="M488.8 2851.4H769.2M488.8 2893.8H769.2M488.8 2936.2H769.2M493.8 2851.4V2936.2"/>
<svg x="493.8" y="2936.2" width="275.4" height="4" viewBox="0 0 5 4" preserveAspectRatio="none" overflow="visible"><path class="g" d="M0 0V4M1 0V4M2 0V4M3 0V4M4 0V4M5 0V4"/></svg>
<svg x="493.8" y="2851.4" width="275.4" height="84.8" viewBox="0 0 35 200" preserveAspectRatio="none"><g transform="matrix(1 0 0 -1 0 200)"><rect class="m" x="1.5" width="2" height="70.8"/><rect class="d" x="3.5" width="2" height="130.7"/><rect class="m" x="8.5" width="2" height="151.7"/><rect class="d" x="10.5" width="2" height="169.9"/><rect class="m" x="15.5" width="2" height="53.1"/><rect class="d" x="17.5" width="2" height="53.1"/><rect class="m" x="29.5" width="2" height="22.5"/><rect class="d" x="31.5" width="2" height="22.5"/></g></svg>
<text class="k" x="481.8" y="2855.9">100</text><text class="k" x="481.8" y="2898.3">10</text><text class="k" x="481.8" y="2940.7">1</text>
<text class="y" transform="translate(452.2 2893.8) rotate(-90)">pg/ml</text>
<text class="c" x="521.34" y="2959.4">IFNg</text><text class="c" x="576.42" y="2959.4">TNFa</text><text class="c" x="631.5" y="2959.4">GMCSF</text><text class="c" x="686.58" y="2959.4">IL4</text><text class="c" x="741.66" y="2959.4">IL10</text>
<rect class="m" x="523" y="2981" width="10" height="10"/><text class="l" x="535" y="2991">Medium</text><rect class="d" x="600" y="2981" width="10" height="10"/><text class="l" x="612" y="2991">Medium+CEA</text>

<!-- 25 V-25 -->
<text class="t" x="209.3" y="3056.3">V-25</text>
<path class="g" d="M109.3 3081.7H373.3M109.3 3113.03H373.3M109.3 3144.37H373.3M109.3 3175.7H373.3M114.3 3081.7V3175.7"/>
<svg x="114.3" y="3175.7" width="259" height="4" viewBox="0 0 5 4" preserveAspectRatio="none" overflow="visible"><path class="g" d="M0 0V4M1 0V4M2 0V4M3 0V4M4 0V4M5 0V4"/></svg>
<svg x="114.3" y="3081.7" width="259" height="94" viewBox="0 0 35 300" preserveAspectRatio="none"><g transform="matrix(1 0 0 -1 0 300)"><rect class="m" x="1.5" width="2" height="181.3"/><rect class="d" x="3.5" width="2" height="213"/><rect class="m" x="8.5" width="2" height="185.1"/><rect class="d" x="10.5" width="2" height="199.1"/><rect class="m" x="15.5" width="2" height="49.1"/><rect class="d" x="17.5" width="2" height="49.1"/><rect class="m" x="29.5" width="2" height="17.3"/><rect class="d" x="31.5" width="2" height="17.3"/></g></svg>
<text class="k" x="102.3" y="3086.2">1000</text><text class="k" x="102.3" y="3117.5">100</text><text class="k" x="102.3" y="3148.9">10</text><text class="k" x="102.3" y="3180.2">1</text>
<text class="y" transform="translate(64.2 3128.7) rotate(-90)">pg/ml</text>
<text class="c" x="140.2" y="3199.5">IFNg</text><text class="c" x="192" y="3199.5">TNFa</text><text class="c" x="243.8" y="3199.5">GMCSF</text><text class="c" x="295.6" y="3199.5">IL4</text><text class="c" x="347.4" y="3199.5">IL10</text>
<rect class="m" x="127.3" y="3221" width="10" height="10"/><text class="l" x="139.3" y="3231">Medium</text><rect class="d" x="206" y="3221" width="10" height="10"/><text class="l" x="218" y="3231">Medium+CEA</text>

<!-- 26 V-26 -->
<text class="t" x="599" y="3056.5">V-26</text>
<path class="g" d="M488.3 3082H775.4M488.3 3113.8H775.4M488.3 3145.6H775.4M488.3 3177.4H775.4M493.3 3082V3177.4"/>
<svg x="493.3" y="3177.4" width="282.1" height="4" viewBox="0 0 5 4" preserveAspectRatio="none" overflow="visible"><path class="g" d="M0 0V4M1 0V4M2 0V4M3 0V4M4 0V4M5 0V4"/></svg>
<svg x="493.3" y="3082" width="282.1" height="95.4" viewBox="0 0 35 150" preserveAspectRatio="none"><g transform="matrix(1 0 0 -1 0 150)"><rect class="m" x="1.5" width="2" height="76.6"/><rect class="d" x="3.5" width="2" height="136"/><rect class="m" x="8.5" width="2" height="13.8"/><rect class="d" x="10.5" width="2" height="34.4"/><rect class="m" x="15.5" width="2" height="13.8"/><rect class="d" x="17.5" width="2" height="13.8"/><rect class="m" x="22.5" width="2" height="1"/><rect class="d" x="24.5" width="2" height="1"/><rect class="m" x="29.5" width="2" height="1"/><rect class="d" x="31.5" width="2" height="1"/></g></svg>
<text class="k" x="481.3" y="3086.5">150</text><text class="k" x="481.3" y="3118.3">100</text><text class="k" x="481.3" y="3150.1">50</text><text class="k" x="481.3" y="3181.9">0</text>
<text class="y" transform="translate(440.5 3129.7) rotate(-90)">pg/ml</text>
<text class="c" x="521.51" y="3201.4">IFNg</text><text class="c" x="577.93" y="3201.4">TNFa</text><text class="c" x="634.35" y="3201.4">GMCSF</text><text class="c" x="690.77" y="3201.4">IL4</text><text class="c" x="747.19" y="3201.4">IL10</text>
<rect class="m" x="520.5" y="3222.6" width="10" height="10"/><text class="l" x="532.5" y="3232.6">Medium</text><rect class="d" x="597.4" y="3222.6" width="10" height="10"/><text class="l" x="609.4" y="3232.6">Medium+CEA</text>

</svg>
</body></html>
